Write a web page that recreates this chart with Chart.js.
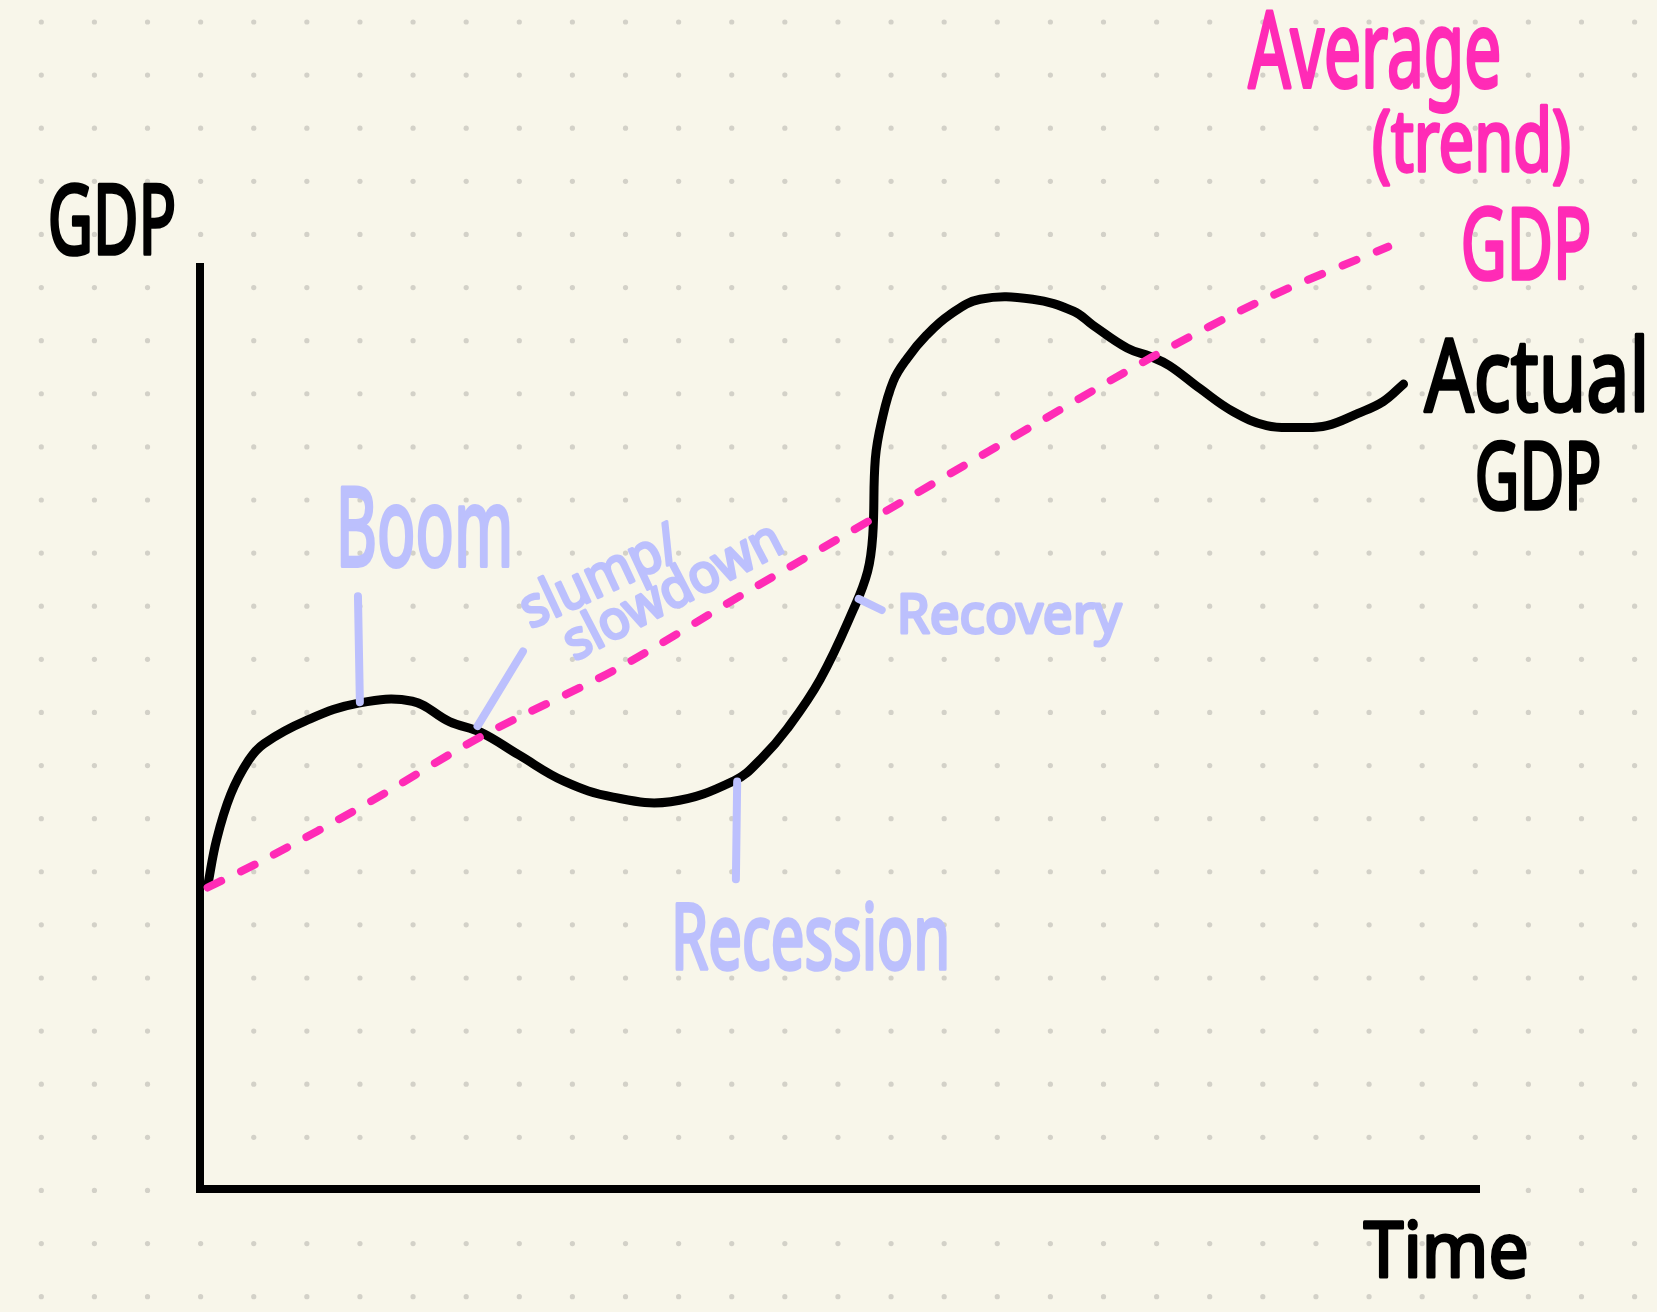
<!DOCTYPE html>
<html>
<head>
<meta charset="utf-8">
<title>Business cycle</title>
<script src="https://cdn.jsdelivr.net/npm/chart.js@4"></script>
<style>
  html, body { margin: 0; padding: 0; background: #f8f6ea; }
  #chart { display: block; }
</style>
</head>
<body>
<canvas id="chart" width="1657" height="1312"></canvas>
<script>
// time goes 0..100 along the x axis, GDP 0..100 up the y axis

// actual GDP (black curve)
var actualTime = [0.6, 1.3, 2.4, 3.8, 5.0, 8.3, 12.4, 16.6, 19.5, 22.0, 24.9, 28.5, 32.3, 36.8, 41.8, 43.9, 45.9, 48.5, 51.1, 52.2, 52.6, 52.8, 53.3, 54.2, 55.3, 56.8, 58.6, 61.0, 65.1, 68.3, 69.8, 72.5, 74.3, 75.8, 78.2, 80.8, 83.4, 86.0, 88.1, 90.5, 92.5, 94.1];
var actualGdp = [32.9, 37.9, 42.8, 46.5, 48.3, 50.8, 52.7, 52.9, 50.7, 49.5, 47.1, 44.2, 42.5, 42.0, 44.3, 46.7, 49.9, 55.3, 62.9, 67.0, 70.9, 79.2, 83.3, 87.6, 90.1, 92.6, 94.8, 96.5, 96.5, 95.2, 93.7, 91.2, 90.3, 89.3, 86.8, 84.3, 82.8, 82.6, 82.8, 84.1, 85.4, 87.3];

// average (trend) GDP (pink dashed)
var trendTime = [0.6, 5.0, 13.3, 22.0, 32.7, 42.2, 52.6, 62.9, 74.4, 83.5, 92.9];
var trendGdp = [32.7, 35.7, 42.0, 49.1, 56.5, 64.3, 72.7, 81.0, 90.2, 96.7, 102.2];

// little pointer strokes for the phase labels
var boomTick = [[12.35, 64.3], [12.5, 52.8]];
var slumpTick = [[25.25, 58.3], [21.7, 50.2]];
var recessionTick = [[42.0, 44.2], [41.9, 33.6]];
var recoveryTick = [[51.5, 64.0], [53.3, 62.8]];

var BLACK = '#000000';
var PINK = '#ff2bb6';
var LAVENDER = '#bcc0fd';

function toPoints(xs, ys) {
  var out = [];
  for (var i = 0; i < xs.length; i++) out.push({ x: xs[i], y: ys[i] });
  return out;
}
function pairPoints(p) {
  return p.map(function (q) { return { x: q[0], y: q[1] }; });
}
function tickSet(p) {
  return {
    data: pairPoints(p),
    borderColor: LAVENDER,
    borderWidth: 8,
    borderCapStyle: 'round',
    pointRadius: 0,
    clip: false
  };
}

// hand lettering: text stretched into a box (left, top, right, baseline), pen = extra stroke
var labels = [
  { text: 'GDP', box: [50, 181, 175, 255], color: BLACK, pen: 3 },
  { text: 'Average', box: [1247, 9, 1500, 88], color: PINK, pen: 3 },
  { text: '(trend)', box: [1373, 103, 1570, 172], color: PINK, pen: 3 },
  { text: 'GDP', box: [1463, 205, 1590, 280], color: PINK, pen: 3 },
  { text: 'Actual', box: [1423, 332, 1645, 412], color: BLACK, pen: 3 },
  { text: 'GDP', box: [1477, 439, 1600, 510], color: BLACK, pen: 3 },
  { text: 'Time', box: [1363, 1217, 1527, 1278], color: BLACK, pen: 3 },
  { text: 'Boom', box: [340, 485, 510, 567], color: LAVENDER, pen: 3 },
  { text: 'Recession', box: [675, 899, 947, 970], color: LAVENDER, pen: 3 },
  { text: 'Recovery', box: [900, 592, 1123, 634], color: LAVENDER, pen: 3 }
];
// rotated ones: baseline start, length along baseline, height, angle
var slanted = [
  { text: 'slump/', at: [532, 630], len: 170, h: 46, angle: -25, color: LAVENDER, pen: 3 },
  { text: 'slowdown', at: [576, 662], len: 236, h: 44, angle: -27.5, color: LAVENDER, pen: 3 }
];

var FONT = '"Noto Sans", sans-serif';

function fitText(ctx, text, w, h) {
  ctx.font = '400 100px ' + FONT;
  var m = ctx.measureText(text);
  var tw = m.actualBoundingBoxRight + m.actualBoundingBoxLeft;
  var th = m.actualBoundingBoxAscent;
  return { sx: w / tw, sy: h / th, off: m.actualBoundingBoxLeft };
}

function ink(ctx, text, f, color, pen) {
  ctx.fillStyle = color;
  ctx.strokeStyle = color;
  ctx.lineJoin = 'round';
  ctx.lineCap = 'round';
  ctx.lineWidth = pen / Math.sqrt(f.sx * f.sy);
  ctx.fillText(text, f.off, 0);
  ctx.strokeText(text, f.off, 0);
}

var paperPlugin = {
  id: 'paper',
  beforeDraw: function (chart) {
    var ctx = chart.ctx;
    ctx.save();
    ctx.fillStyle = '#f8f6ea';
    ctx.fillRect(0, 0, chart.width, chart.height);
    ctx.fillStyle = '#d3d1c8';
    var step = 53.11;
    for (var x = 41.3; x < chart.width; x += step) {
      for (var y = 22; y < chart.height; y += step) {
        ctx.beginPath();
        ctx.arc(x, y, 2.6, 0, Math.PI * 2);
        ctx.fill();
      }
    }
    ctx.restore();
  },
  afterDraw: function (chart) {
    var ctx = chart.ctx;
    labels.forEach(function (l) {
      var b = l.box, p = l.pen / 2;
      ctx.save();
      var f = fitText(ctx, l.text, b[2] - b[0] - 2 * p, b[3] - b[1] - 2 * p);
      ctx.translate(b[0] + p, b[3] - p);
      ctx.scale(f.sx, f.sy);
      ink(ctx, l.text, f, l.color, l.pen);
      ctx.restore();
    });
    slanted.forEach(function (l) {
      var p = l.pen / 2;
      ctx.save();
      var f = fitText(ctx, l.text, l.len - 2 * p, l.h - 2 * p);
      ctx.translate(l.at[0], l.at[1]);
      ctx.rotate(l.angle * Math.PI / 180);
      ctx.translate(p, -p);
      ctx.scale(f.sx, f.sy);
      ink(ctx, l.text, f, l.color, l.pen);
      ctx.restore();
    });
  }
};

var ctx = document.getElementById('chart').getContext('2d');
new Chart(ctx, {
  type: 'line',
  data: {
    datasets: [
      tickSet(boomTick),
      tickSet(slumpTick),
      tickSet(recessionTick),
      tickSet(recoveryTick),
      {
        label: 'Average (trend) GDP',
        data: toPoints(trendTime, trendGdp),
        borderColor: PINK,
        borderWidth: 8,
        borderDash: [15, 22],
        borderCapStyle: 'round',
        tension: 0.3,
        pointRadius: 0,
        clip: false
      },
      {
        label: 'Actual GDP',
        data: toPoints(actualTime, actualGdp),
        borderColor: BLACK,
        borderWidth: 9,
        borderCapStyle: 'round',
        borderJoinStyle: 'round',
        tension: 0.4,
        pointRadius: 0,
        clip: false
      }
    ]
  },
  options: {
    responsive: false,
    animation: false,
    layout: { padding: { left: 200, top: 267, right: 178, bottom: 123 } },
    plugins: { legend: { display: false }, tooltip: { enabled: false } },
    scales: {
      x: {
        type: 'linear', min: 0, max: 100,
        ticks: { display: false },
        grid: { display: false, drawTicks: false },
        border: { display: true, color: BLACK, width: 8 }
      },
      y: {
        type: 'linear', min: 0, max: 100,
        ticks: { display: false },
        grid: { display: false, drawTicks: false },
        border: { display: true, color: BLACK, width: 8 }
      }
    }
  },
  plugins: [paperPlugin]
});
</script>
</body>
</html>
